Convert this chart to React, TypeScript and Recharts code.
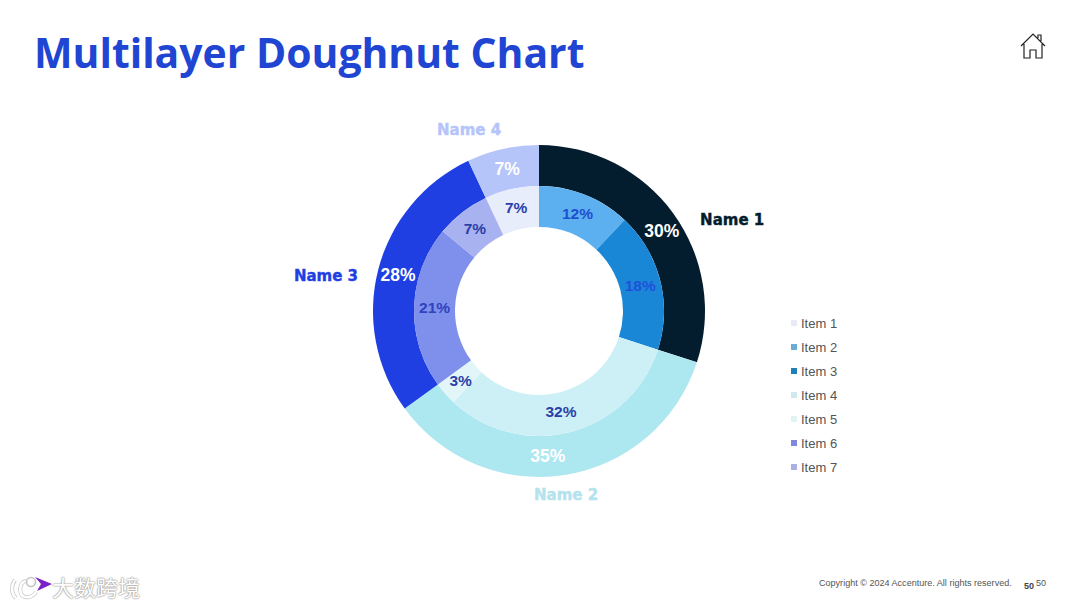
import React from "react";
import { PieChart, Pie, Legend } from "recharts";

const outerNames = ["Name 1", "Name 2", "Name 3", "Name 4"];
const outerValues = [30, 35, 28, 7];
const outerColors = ["#041d2e", "#ade7f0", "#1f3fe2", "#b5c4f9"];
const outerNameColors = ["#041d2e", "#b4e3ee", "#1f3fe2", "#b5c4f9"];

// legend order, item 1 sits just left of twelve o'clock
const innerNames = ["Item 1", "Item 2", "Item 3", "Item 4", "Item 5", "Item 6", "Item 7"];
const innerValues = [7, 12, 18, 32, 3, 21, 7];
const innerColors = ["#e7edfb", "#5cb0ef", "#1a86d6", "#cdeff6", "#e2f6fa", "#7f8fec", "#a9b2f0"];
const innerTextColors = ["#2b3fa8", "#1f4fd0", "#1f52dc", "#2b3fa8", "#2b3fa8", "#2e43be", "#2b3fa8"];
const legendColors = ["#e8eaf6", "#6aaed6", "#1f7fb8", "#cfe9ee", "#e0f3f5", "#7f88dc", "#aab0e6"];

const outerData = outerNames.map((name, i) => ({ name, value: outerValues[i], fill: outerColors[i] }));
const innerData = innerNames.map((name, i) => ({ name, value: innerValues[i], fill: innerColors[i] }));

const RAD = Math.PI / 180;
const sans = "'Liberation Sans', Arial, sans-serif";

// hand nudges for labels that were moved in the source slide
const pctNudge = [[5, 6], [-14, 1], [0, 0], [0, 0]];
const nameRadius = [214, 185, 216, 195];
const nameAngle = [64.5, 171.6, 279.5, 339];

function OuterLabel(props: any) {
  const { cx, cy, midAngle, innerRadius, outerRadius, index, value } = props;
  const r = (innerRadius + outerRadius) / 2;
  const x = cx + r * Math.cos(-midAngle * RAD) + pctNudge[index][0];
  const y = cy + r * Math.sin(-midAngle * RAD) + pctNudge[index][1];
  const a = nameAngle[index] * RAD;
  const nx = cx + nameRadius[index] * Math.sin(a);
  const ny = cy - nameRadius[index] * Math.cos(a) + 1;
  return (
    <g>
      <text x={x} y={y} fill="#fff" fontFamily={sans} fontWeight={700} fontSize={17.5} textAnchor="middle" dominantBaseline="central">
        {value}%
      </text>
      <text
        x={nx}
        y={ny}
        fill={outerNameColors[index]}
        stroke={outerNameColors[index]}
        strokeWidth={0.4}
        fontFamily="'DejaVu Sans', sans-serif"
        fontWeight={700}
        fontSize={15}
        textAnchor="middle"
        dominantBaseline="central"
      >
        {outerNames[index]}
      </text>
    </g>
  );
}

function InnerLabel(props: any) {
  const { cx, cy, midAngle, innerRadius, outerRadius, index, value } = props;
  const r = (innerRadius + outerRadius) / 2;
  const x = cx + r * Math.cos(-midAngle * RAD) + (index === 3 ? -4 : 0);
  const y = cy + r * Math.sin(-midAngle * RAD) - (index === 0 ? 2 : index === 3 ? 1 : 0);
  return (
    <text x={x} y={y} fill={innerTextColors[index]} fontFamily={sans} fontWeight={700} fontSize={15.5} textAnchor="middle" dominantBaseline="central">
      {value}%
    </text>
  );
}

function ItemLegend() {
  return (
    <div>
      {innerNames.map((name, i) => (
        <div key={name} style={{ display: "flex", alignItems: "center", height: 24, fontFamily: sans, fontSize: 13, color: "#555" }}>
          <span style={{ width: 6, height: 6, background: legendColors[i], marginRight: 4 }} />
          {name}
        </div>
      ))}
    </div>
  );
}

function HomeIcon() {
  return (
    <svg width={30} height={30} viewBox="0 0 30 30" style={{ position: "absolute", left: 1018, top: 31 }}>
      <path
        d="M3 15 L15 3 L27 15 M6 13 V27 H12 V19 H18 V27 H24 V13 M20 7 V4 H23 V10"
        fill="none"
        stroke="#222"
        strokeWidth={1.2}
      />
    </svg>
  );
}

function Watermark() {
  const ring = "M7 9 C3 14 3 23 8 27 M18 10 C11 11 10 24 17 26 C22 27 26 24 28 21";
  return (
    <div style={{ position: "absolute", left: 8, top: 571, width: 140, height: 30 }}>
      <svg width={44} height={30} style={{ position: "absolute", left: 0, top: 0 }}>
        <path d={ring} fill="none" stroke="#c4c4c4" strokeWidth={4} />
        <path d={ring} fill="none" stroke="#fff" strokeWidth={2.6} />
        <circle cx={23} cy={11} r={4.5} fill="none" stroke="#c4c4c4" strokeWidth={1.6} />
        <path d="M27 6 L44 13 L29 20 L33 13 Z" fill="#7a22c8" />
      </svg>
      <div
        style={{
          position: "absolute",
          left: 44,
          top: 1,
          fontFamily: "'Noto Sans CJK SC', sans-serif",
          fontSize: 22,
          lineHeight: "28px",
          color: "#fff",
          whiteSpace: "nowrap",
          textShadow: "0 0 1.5px #888, 0 0 1.5px #888",
        }}
      >
        大数跨境
      </div>
    </div>
  );
}

export default function App() {
  return (
    <div style={{ position: "absolute", left: 0, top: 0, width: 1080, height: 608, background: "#fff", overflow: "hidden" }}>
      <div
        style={{
          position: "absolute",
          left: 34,
          top: 24,
          fontFamily: "'Open Sans', sans-serif",
          fontWeight: 700,
          fontSize: 40.9,
          lineHeight: "56px",
          color: "#2145d3",
          whiteSpace: "nowrap",
        }}
      >
        Multilayer Doughnut Chart
      </div>
      <HomeIcon />

      <PieChart width={1080} height={608} margin={{ top: 0, right: 0, bottom: 0, left: 0 }}>
        <Pie
          data={outerData}
          dataKey="value"
          nameKey="name"
          cx={539}
          cy={311}
          innerRadius={125}
          outerRadius={166}
          startAngle={90}
          endAngle={-270}
          stroke="none"
          label={OuterLabel}
          labelLine={false}
          isAnimationActive={false}
        />
        <Pie
          data={innerData}
          dataKey="value"
          nameKey="name"
          cx={539}
          cy={311}
          innerRadius={84}
          outerRadius={125}
          startAngle={115.2}
          endAngle={-244.8}
          stroke="none"
          label={InnerLabel}
          labelLine={false}
          isAnimationActive={false}
        />
        <Legend content={ItemLegend} wrapperStyle={{ position: "absolute", left: 791, top: 311, width: 70, bottom: "auto" }} />
      </PieChart>

      <div style={{ position: "absolute", left: 819, top: 578, fontFamily: sans, fontSize: 9.05, color: "#555", whiteSpace: "nowrap" }}>
        Copyright © 2024 Accenture. All rights reserved.
      </div>
      <div style={{ position: "absolute", left: 1024, top: 581, fontFamily: sans, fontSize: 9, fontWeight: 700, color: "#444" }}>50</div>
      <div style={{ position: "absolute", left: 1036, top: 578, fontFamily: sans, fontSize: 9, color: "#555" }}>50</div>
      <Watermark />
    </div>
  );
}
